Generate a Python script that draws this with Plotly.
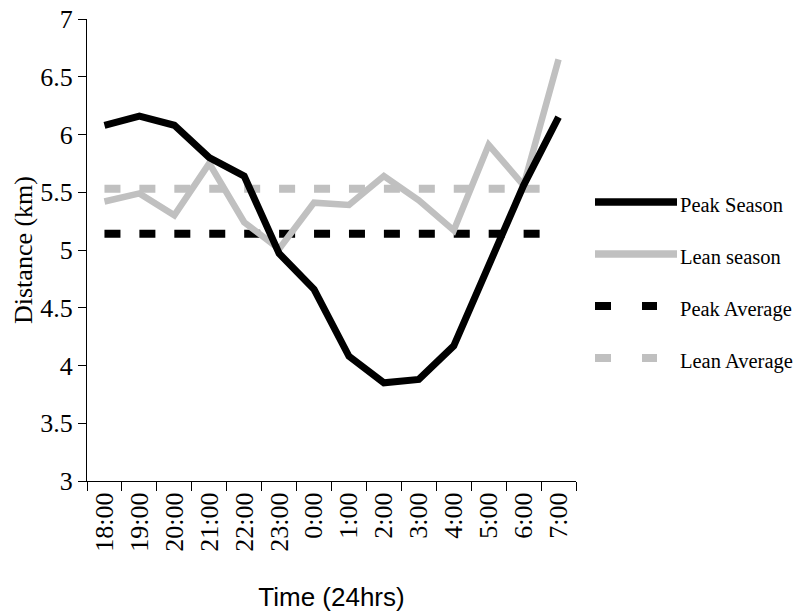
import plotly.graph_objects as go

# ---- data ----
hours = ["18:00", "19:00", "20:00", "21:00", "22:00", "23:00", "0:00",
         "1:00", "2:00", "3:00", "4:00", "5:00", "6:00", "7:00"]
peak_season = [6.08, 6.16, 6.08, 5.80, 5.64, 4.97, 4.66,
               4.08, 3.85, 3.88, 4.17, 4.88, 5.56, 6.15]
lean_season = [5.42, 5.49, 5.30, 5.75, 5.24, 5.01, 5.41,
               5.39, 5.64, 5.43, 5.17, 5.91, 5.56, 6.65]
peak_average = [5.14] * len(hours)
lean_average = [5.53] * len(hours)
y_ticks = [3, 3.5, 4, 4.5, 5, 5.5, 6, 6.5, 7]
y_tick_text = ["3", "3.5", "4", "4.5", "5", "5.5", "6", "6.5", "7"]

series_names = ["Peak Season", "Lean season", "Peak Average", "Lean Average"]

BLACK = "#000000"
GREY = "#C0C0C0"
SERIF = "Liberation Serif, Times New Roman, serif"
SANS = "Liberation Sans, Arial, sans-serif"

fig = go.Figure()
fig.add_trace(go.Scatter(x=hours, y=peak_average, mode="lines", name=series_names[2],
                         line=dict(color=BLACK, width=8, dash="16px,18.93px")))
fig.add_trace(go.Scatter(x=hours, y=lean_average, mode="lines", name=series_names[3],
                         line=dict(color=GREY, width=8, dash="16px,18.93px")))
fig.add_trace(go.Scatter(x=hours, y=lean_season, mode="lines", name=series_names[1],
                         line=dict(color=GREY, width=6.5)))
fig.add_trace(go.Scatter(x=hours, y=peak_season, mode="lines", name=series_names[0],
                         line=dict(color=BLACK, width=7)))

# ---- geometry (screen pixels; body margin removed via post_script) ----
W, H = 801, 615
L, R, T, B = 87, 576, 19, 481
pw, ph = R - L, B - T


def px(xs):
    return (xs - L) / pw


def py(ys):
    return (B - ys) / ph


# ---- manual legend (long line samples like the reference) ----
legend_y = [202, 254, 306, 358]
legend_styles = [
    dict(color=BLACK, width=7.5),
    dict(color=GREY, width=7.5),
    dict(color=BLACK, width=8, dash="16px,31px"),
    dict(color=GREY, width=8, dash="16px,31px"),
]
shapes = []
annotations = []
for name, yy, st in zip(series_names, legend_y, legend_styles):
    x0, x1 = 595, 677
    if "dash" in st:
        x1 = 657
    shapes.append(dict(type="line", xref="paper", yref="paper",
                       x0=px(x0), x1=px(x1), y0=py(yy), y1=py(yy), line=st))
    annotations.append(dict(xref="paper", yref="paper", x=px(678), y=py(yy + 3),
                            text=name, showarrow=False, xanchor="left", yanchor="middle",
                            font=dict(family=SERIF, size=20.5, color=BLACK)))

fig.update_layout(
    width=W, height=H,
    margin=dict(l=L, r=W - R, t=T, b=H - B, autoexpand=False),
    paper_bgcolor="white", plot_bgcolor="white",
    showlegend=False,
    shapes=shapes,
    annotations=annotations,
    xaxis=dict(
        type="category", categoryorder="array", categoryarray=hours,
        range=[-0.5, len(hours) - 0.5], automargin=False,
        showline=True, linecolor=BLACK, linewidth=1,
        ticks="outside", tickson="boundaries", ticklen=9, tickcolor=BLACK, tickwidth=1,
        tickangle=-90, ticklabeloverflow="allow",
        tickfont=dict(family=SERIF, size=26, color=BLACK),
        showgrid=False, zeroline=False,
        title=dict(text="Time (24hrs)", font=dict(family=SANS, size=26, color=BLACK), standoff=37),
    ),
    yaxis=dict(
        range=[3, 7], tickvals=y_ticks, ticktext=y_tick_text, automargin=False,
        ticklabeloverflow="allow",
        showline=True, linecolor=BLACK, linewidth=1,
        ticks="outside", ticklen=8, tickcolor=BLACK, tickwidth=1,
        tickfont=dict(family=SERIF, size=26, color=BLACK),
        showgrid=False, zeroline=False,
        title=dict(text="Distance (km)", font=dict(family=SERIF, size=26, color=BLACK), standoff=0),
    ),
)

fig.write_html("out.html", config={"displayModeBar": False},
               post_script="document.body.style.margin='0';")
